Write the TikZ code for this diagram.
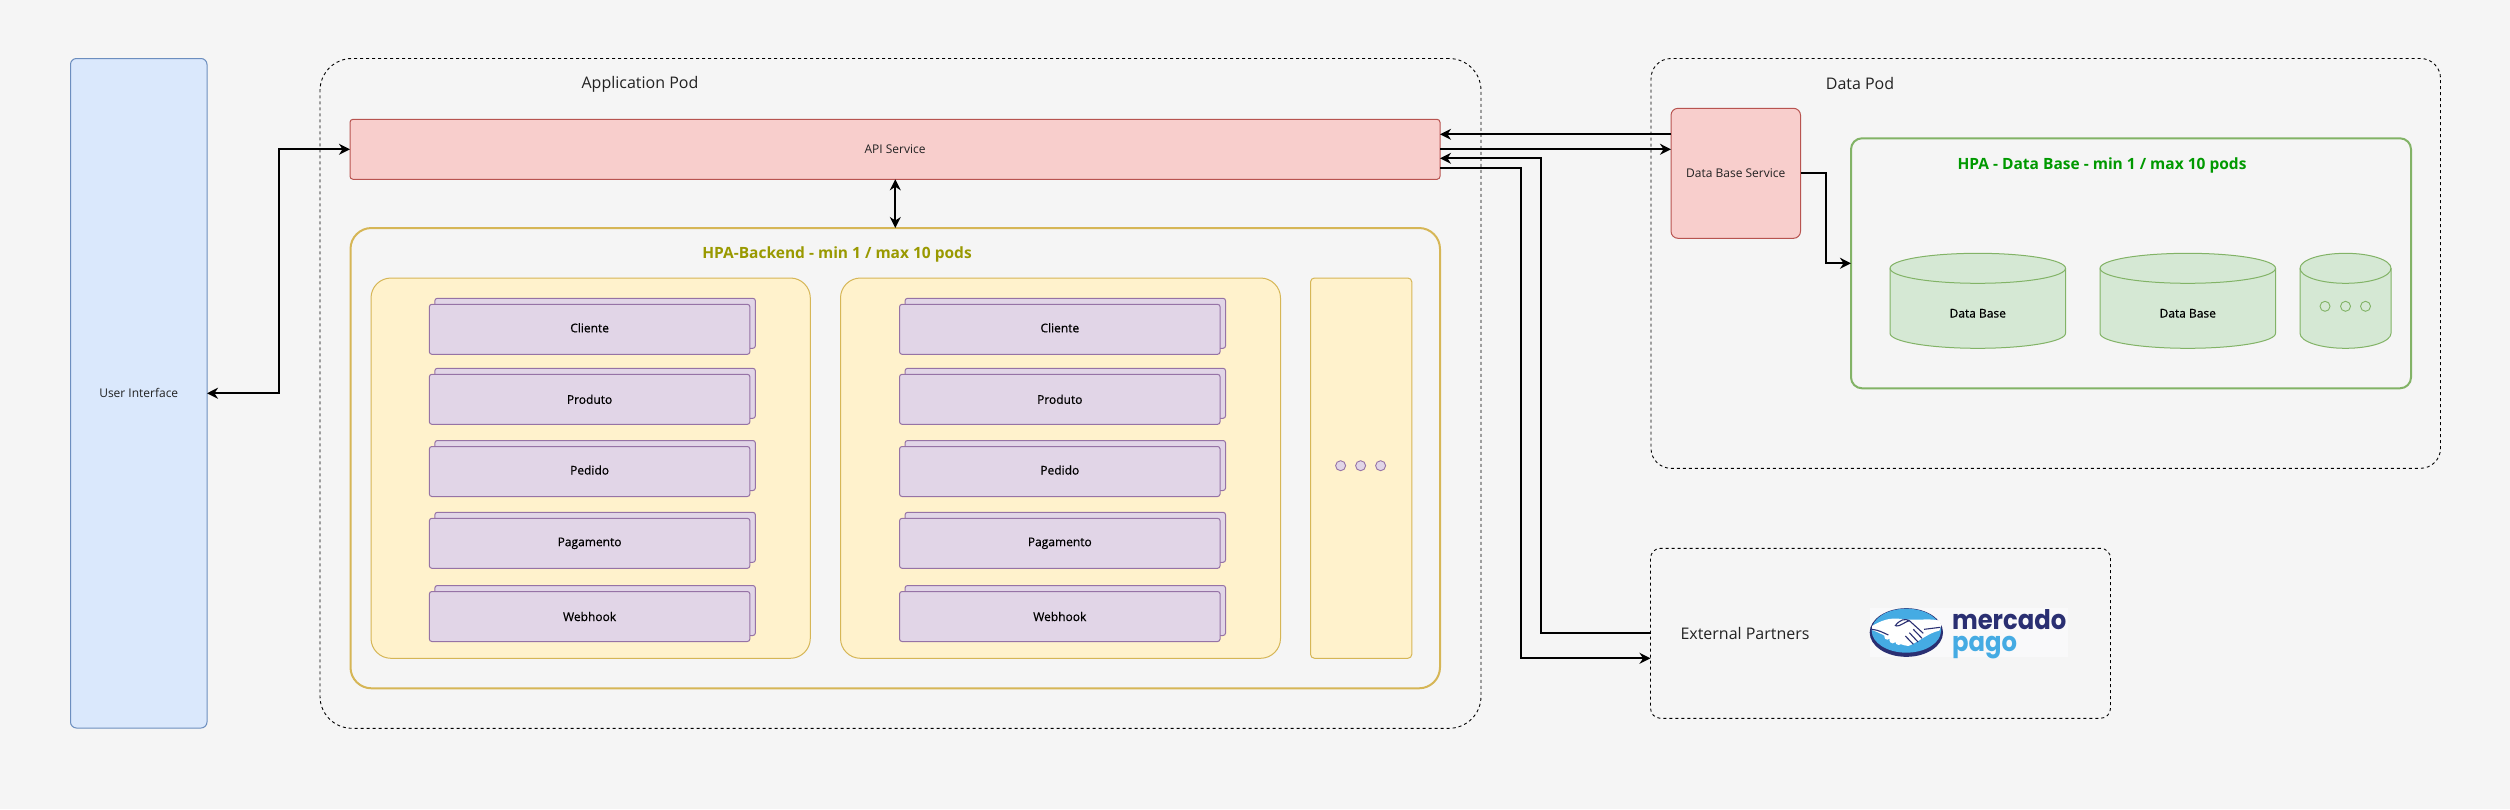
\documentclass[tikz,border=0pt]{standalone}
\usepackage{fontspec}
\setmainfont{Open Sans}
\newfontfamily\logofont[FakeStretch=0.9]{Poppins}
\newfontfamily\firmfont[FakeBold=0.6]{Open Sans}
\usetikzlibrary{arrows.meta,calc}
\definecolor{bgc}{HTML}{F5F5F5}
\definecolor{bluef}{HTML}{DAE8FC}\definecolor{blued}{HTML}{6C8EBF}
\definecolor{redf}{HTML}{F8CECC}\definecolor{redd}{HTML}{B85450}
\definecolor{yelf}{HTML}{FFF2CC}\definecolor{yeld}{HTML}{D6B656}
\definecolor{purf}{HTML}{E1D5E7}\definecolor{purd}{HTML}{9673A6}
\definecolor{grnf}{HTML}{D5E8D4}\definecolor{grnd}{HTML}{82B366}
\definecolor{hpay}{HTML}{999900}\definecolor{hpag}{HTML}{009900}
\definecolor{mpnavy}{HTML}{2A2F72}\definecolor{mpblue}{HTML}{45ABE3}
\definecolor{txtc}{HTML}{222222}
\definecolor{logobg}{HTML}{F9F9FA}
\newcommand{\sztxt}[1]{\fontsize{#1}{#1}\selectfont}
\tikzset{
  x=1pt,y=-1pt,
  every node/.style={inner sep=0pt,outer sep=0pt,text=txtc},
  pod/.style={draw=black,line width=0.9pt,dash pattern=on 3pt off 3pt},
  blubox/.style={draw=blued,fill=bluef,line width=1pt,rounded corners=6pt},
  redbox/.style={draw=redd,fill=redf,line width=1pt},
  yelbox/.style={draw=yeld,fill=yelf,line width=1pt,rounded corners=20pt},
  purbox/.style={draw=purd,fill=purf,line width=1pt,rounded corners=2.5pt,minimum width=320.5pt,minimum height=50pt},
  dotcirc/.style={draw=purd,fill=purf,line width=0.9pt,circle,minimum size=10pt},
  gdot/.style={draw=grnd,fill=grnf,line width=0.9pt,circle,minimum size=10pt},
  conn/.style={draw=black,line width=2pt,-{Stealth[length=11pt,width=11pt,inset=3.5pt]}},
  conn2/.style={conn,{Stealth[length=11pt,width=11pt,inset=3.5pt]}-{Stealth[length=11pt,width=11pt,inset=3.5pt]}},
  cyl/.style={draw=grnd,fill=grnf,line width=1pt},
  small/.style={font=\sztxt{12}},
  dark/.style={font=\sztxt{12}\firmfont,text=black},
  big/.style={font=\sztxt{16}},
  hpatitle/.style={font=\sztxt{15.5}\bfseries},
}
% box from corners: name, style, x1, y1, x2, y2, text
\newcommand{\boxat}[7]{%
  \pgfmathsetmacro{\bw}{#5-#3}\pgfmathsetmacro{\bh}{#6-#4}%
  \pgfmathsetmacro{\bx}{(#3+#5)/2}\pgfmathsetmacro{\by}{(#4+#6)/2}%
  \node[#2,minimum width=\bw pt,minimum height=\bh pt] (#1) at (\bx,\by) {#7};}
% stacked purple pair
\newcommand{\stackpair}[4]{%
  \node[purbox] (#1b) at ($(#2,#3)+(5.5,-6)$) {};
  \node[purbox,dark] (#1) at (#2,#3) {#4};}
% database cylinder
\newcommand{\dbcyl}[4]{%
  \pgfmathsetmacro{\rx}{#3/2}\pgfmathsetmacro{\kx}{\rx*0.4477}\pgfmathsetmacro{\kr}{#3-\kx}%
  \begin{scope}[shift={(#2,253.3)}]
  \path[cyl] (0,15) .. controls (0,6.7) and (\kx,0) .. (\rx,0) .. controls (\kr,0) and (#3,6.7) .. (#3,15)
     -- (#3,80) .. controls (#3,88.3) and (\kr,95) .. (\rx,95) .. controls (\kx,95) and (0,88.3) .. (0,80) -- cycle;
  \path[cyl,fill=none] (0,15) .. controls (0,23.3) and (\kx,30) .. (\rx,30) .. controls (\kr,30) and (#3,23.3) .. (#3,15);
  \node[dark] (#1) at (\rx,60) {#4};
  \end{scope}}
\begin{document}
\begin{tikzpicture}
\useasboundingbox (0,0) rectangle (2510,809);
\fill[bgc] (0,0) rectangle (2510,809);

% pods
\boxat{apppod}{pod,rounded corners=32pt}{320}{58.5}{1481}{728.3}{}
\boxat{datapod}{pod,rounded corners=20pt}{1651}{58.5}{2440.5}{468.3}{}
\boxat{extbox}{pod,rounded corners=10pt}{1650.5}{548.3}{2110.5}{718.3}{}
\node[big] (apptitle) at (640,84.5) {Application Pod};
\node[big] (datatitle) at (1860,83) {Data Pod};
\node[big] (exttitle) at (1745,633.3) {External Partners};

% user interface + API
\boxat{ui}{blubox,small}{70.5}{58.5}{207}{728}{User Interface}
\boxat{api}{redbox,rounded corners=3pt,small}{350}{119.3}{1440}{179.3}{API Service}

% backend HPA
\boxat{hpaback}{draw=yeld,line width=2pt,rounded corners=21pt}{350.5}{228}{1440}{688.3}{}
\node[hpatitle,text=hpay] (hpabacktitle) at (837,254.5) {HPA-Backend - min 1 / max 10 pods};
\boxat{col1}{yelbox}{371}{278}{810.3}{658.3}{}
\boxat{col2}{yelbox}{840.5}{278}{1280.5}{658.3}{}
\boxat{col3}{yelbox,rounded corners=4pt}{1310.5}{278}{1411.8}{658.3}{}
\node[dotcirc] (d1) at (1340.6,465.7) {};
\node[dotcirc] (d2) at (1360.6,465.7) {};
\node[dotcirc] (d3) at (1380.6,465.7) {};

\newcommand{\liftby}[1]{\raisebox{1.5pt}[\height][\depth]{#1}}
\stackpair{ca}{589.6}{329.3}{\liftby{Cliente}}
\stackpair{pa}{589.6}{399.3}{Produto}
\stackpair{ea}{589.6}{471.5}{\liftby{Pedido}}
\stackpair{ga}{589.6}{543.3}{Pagamento}
\stackpair{wa}{589.6}{616.5}{Webhook}
\stackpair{cb}{1059.8}{329.3}{\liftby{Cliente}}
\stackpair{pb}{1059.8}{399.3}{Produto}
\stackpair{eb}{1059.8}{471.5}{\liftby{Pedido}}
\stackpair{gb}{1059.8}{543.3}{Pagamento}
\stackpair{wb}{1059.8}{616.5}{Webhook}

% data side
\boxat{dbs}{redbox,rounded corners=7pt,small}{1671}{108.3}{1800.5}{238.3}{Data Base Service}
\boxat{hpadata}{draw=grnd,line width=2pt,rounded corners=11pt}{1851}{138.3}{2411}{388.3}{}
\node[hpatitle,text=hpag] (hpadatatitle) at (2102,165.5) {HPA - Data Base - min 1 / max 10 pods};
\dbcyl{db1}{1890}{175.5}{Data Base}
\dbcyl{db2}{2100}{175.5}{Data Base}
\dbcyl{db3}{2300}{91}{}
\node[gdot] (g1) at (2325,306.3) {};
\node[gdot] (g2) at (2345.5,306.3) {};
\node[gdot] (g3) at (2365.5,306.3) {};

% connectors
\coordinate (uibus) at (279,0);
\draw[conn2] (ui.east) -- (uibus |- ui.east) -- (uibus |- api.west) -- (api.west);
\coordinate (apix) at (895.3,0);
\draw[conn2] (apix |- api.south) -- (apix |- hpaback.north);
\draw[conn] ([yshift=39pt]dbs.west) -- ([yshift=15pt]api.east);
\draw[conn] (api.east) -- ([yshift=24pt]dbs.west);
\coordinate (busa) at (1541,0);
\coordinate (busb) at (1520.5,0);
\draw[conn] (extbox.west) -- (busa |- extbox.west) -- (busa |- 0,158.3) -- ([yshift=-9pt]api.east);
\draw[conn] ([yshift=-19pt]api.east) -- (busb |- 0,168.3) -- (busb |- 0,658.3) -- ([yshift=-25pt]extbox.west);
\coordinate (dbsbus) at (1825.7,0);
\draw[conn] (dbs.east) -- (dbsbus |- dbs.east) -- (dbsbus |- hpadata.west) -- (hpadata.west);

% mercado pago logo (coordinates in 1/3 px)
\begin{scope}[shift={(1850,590)},x=0.3333pt,y=-0.3333pt]
  \fill[logobg] (60,55) rectangle (655,200);
  \fill[mpnavy] (169,127.5) ellipse[x radius=110,y radius=73];
  \fill[mpblue] (169,122) ellipse[x radius=104,y radius=66];
  \fill[white] (66,108) .. controls (110,82) and (130,84) .. (165,88) .. controls (205,92) and (235,84) .. (270,92)
     .. controls (275,105) and (272,115) .. (268,122) .. controls (235,128) and (200,160) .. (175,168)
     .. controls (140,165) and (110,135) .. (66,120) -- cycle;
  \fill[white] (112,140) circle[radius=9] (128,150) circle[radius=10] (146,155) circle[radius=10] (135,133) circle[radius=9];
  \draw[mpnavy,line width=1.1pt] (135,108) .. controls (150,88) and (165,85) .. (178,92) -- (220,130)
     (178,92) .. controls (165,95) and (150,110) .. (138,108)
     (66,118) .. controls (85,120) and (100,128) .. (115,135)
     (222,118) -- (270,112)
     (190,118) -- (216,145) (178,128) -- (204,156) (166,138) -- (190,163);
  \node[font=\logofont\bfseries\fontsize{27}{21.7}\selectfont,align=left,anchor=base west,text=mpnavy] (mplogo) at (306,185)
    {mercado\\\textcolor{mpblue}{pago}};
\end{scope}
\end{tikzpicture}
\end{document}
